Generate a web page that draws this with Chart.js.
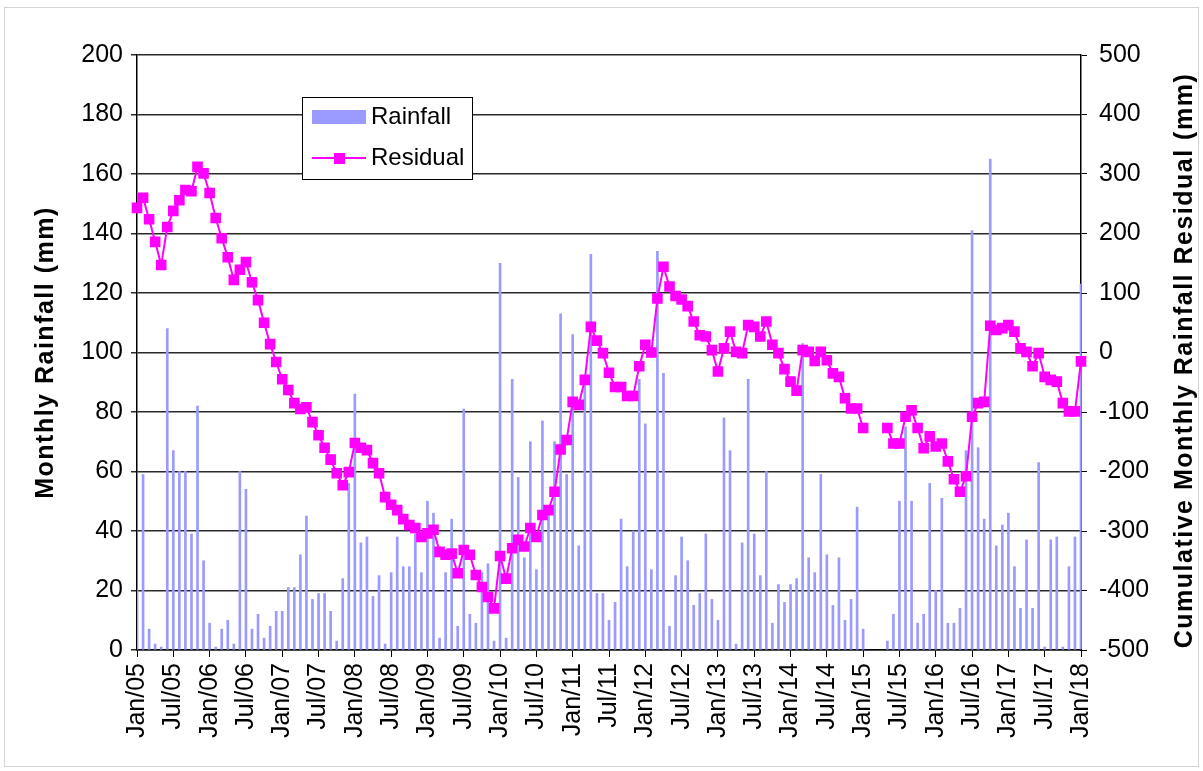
<!DOCTYPE html>
<html>
<head>
<meta charset="utf-8">
<script src="https://cdn.jsdelivr.net/npm/chart.js@4.4.1/dist/chart.umd.min.js"></script>
<style>
  html, body { margin: 0; padding: 0; background: #fff; }
  #wrap { width: 1203px; height: 771px; position: relative; }
</style>
</head>
<body>
<div id="wrap"><canvas id="chart" width="1203" height="771"></canvas></div>
<script>
// months Jan/05 .. Jan/18
var monthNames = ['Jan', 'Feb', 'Mar', 'Apr', 'May', 'Jun', 'Jul', 'Aug', 'Sep', 'Oct', 'Nov', 'Dec'];
var firstYear = 2005;
var monthCount = 157;
var labels = [];
for (var i = 0; i < monthCount; i++) {
  var yy = firstYear + Math.floor(i / 12);
  labels.push(monthNames[i % 12] + '/' + String(yy).substring(2));
}

// monthly rainfall (mm), one row per year
var rainfall = [
  20, 59, 7, 2, 1, 108, 67, 60, 60, 39, 82, 30,
  9, 1, 7, 10, 2, 60, 54, 7, 12, 4, 8, 13,
  13, 21, 21, 32, 45, 17, 19, 19, 13, 3, 24, 56,
  86, 36, 38, 18, 25, 2, 26, 38, 28, 28, 39, 26,
  50, 46, 4, 26, 44, 8, 81, 12, 9, 26, 29, 3,
  130, 4, 91, 58, 31, 70, 27, 77, 46, 70, 113, 59,
  106, 35, 91, 133, 19, 19, 10, 16, 44, 28, 40, 91,
  76, 27, 134, 93, 8, 25, 38, 30, 15, 19, 39, 17,
  10, 78, 67, 2, 36, 91, 39, 25, 60, 9, 22, 16,
  22, 24, 103, 31, 26, 59, 32, 15, 31, 10, 17, 48,
  7, null, null, null, 3, 12, 50, 75, 50, 9, 12, 56,
  20, 51, 9, 9, 14, 67, 141, 68, 44, 165, 35, 42,
  46, 28, 14, 37, 14, 63, 1, 37, 38, 1, 28, 38,
  123
];

// cumulative monthly rainfall residual (mm)
var residual = [
  243, 260, 224, 186, 147, 211, 238, 256, 273, 271, 312, 301,
  268, 226, 192, 160, 122, 139, 152, 118, 88, 50, 14, -16,
  -45, -63, -85, -95, -92, -117, -139, -160, -180, -203, -223, -201,
  -152, -160, -164, -186, -203, -243, -256, -265, -280, -290, -295, -310,
  -304, -298, -335, -340, -338, -371, -332, -340, -374, -394, -411, -430,
  -342, -380, -329, -315, -326, -295, -310, -273, -265, -234, -163, -147,
  -83, -88, -46, 43, 20, -1, -34, -58, -58, -73, -73, -23,
  13, 0, 91, 144, 111, 95, 89, 78, 52, 29, 27, 4,
  -32, 7, 35, 1, -1, 46, 43, 27, 52, 13, -1, -28,
  -49, -64, 4, 1, -14, 1, -13, -35, -41, -77, -94, -94,
  -127, null, null, null, -127, -153, -153, -108, -97, -127, -161, -141,
  -158, -153, -183, -213, -234, -208, -108, -85, -83, 45, 38, 41,
  46, 35, 7, 1, -23, -1, -41, -46, -49, -85, -99, -99,
  -15
];

var leftTitle = 'Monthly Rainfall (mm)';
var rightTitle = 'Cumulative Monthly Rainfall Residual (mm)';

var fontName = '"Liberation Sans", Arial, sans-serif';
var rainColor = '#9a9aff';
var residColor = '#ff00ff';

// draw one rotated title, reading bottom to top
function drawTitle(c, text, x, y) {
  c.save();
  c.fillStyle = '#000';
  c.font = 'bold 25px ' + fontName;
  if ('letterSpacing' in c) c.letterSpacing = '1.5px';
  c.textAlign = 'center';
  c.textBaseline = 'middle';
  c.translate(x, y);
  c.rotate(-Math.PI / 2);
  c.fillText(text, 0, 0);
  c.restore();
}

var titlePlugin = {
  id: 'axisTitles',
  afterDraw: function(chart) {
    var area = chart.chartArea;
    var mid = (area.top + area.bottom) / 2;
    drawTitle(chart.ctx, leftTitle, 46, mid);
    drawTitle(chart.ctx, rightTitle, 1185, mid + 8);
  }
};

// legend box inside the plot
var legendPlugin = {
  id: 'boxLegend',
  afterDraw: function(chart) {
    var c = chart.ctx;
    var x = 302, y = 97, w = 170, h = 82;
    c.save();
    c.fillStyle = '#fff';
    c.fillRect(x, y, w, h);
    c.strokeStyle = '#000';
    c.lineWidth = 1;
    c.strokeRect(x + 0.5, y + 0.5, w, h);

    c.fillStyle = rainColor;
    c.fillRect(x + 10, y + 13, 54, 14);

    c.strokeStyle = residColor;
    c.lineWidth = 2;
    c.beginPath();
    c.moveTo(x + 10, y + 61);
    c.lineTo(x + 64, y + 61);
    c.stroke();
    c.fillStyle = residColor;
    c.fillRect(x + 32, y + 56, 11, 11);

    c.fillStyle = '#000';
    c.font = '24px ' + fontName;
    c.textAlign = 'left';
    c.textBaseline = 'middle';
    c.fillText('Rainfall', x + 69, y + 20);
    c.fillText('Residual', x + 69, y + 61);
    c.restore();
  }
};

// white background and faint frame
var framePlugin = {
  id: 'frame',
  beforeDraw: function(chart) {
    var c = chart.ctx;
    c.save();
    c.fillStyle = '#fff';
    c.fillRect(0, 0, chart.width, chart.height);
    c.strokeStyle = '#d4d4d4';
    c.lineWidth = 1;
    c.strokeRect(4.5, 7.5, 1194, 759);
    c.restore();
  }
};

var ctx = document.getElementById('chart').getContext('2d');
var chart = new Chart(ctx, {
  type: 'bar',
  data: {
    labels: labels,
    datasets: [
      {
        type: 'line',
        label: 'Residual',
        data: residual,
        yAxisID: 'yRight',
        borderColor: residColor,
        backgroundColor: residColor,
        borderWidth: 2,
        pointStyle: 'rect',
        pointRadius: 7.5,
        pointBorderWidth: 0,
        tension: 0,
        spanGaps: false,
        order: 0
      },
      {
        type: 'bar',
        label: 'Rainfall',
        data: rainfall,
        yAxisID: 'yLeft',
        backgroundColor: rainColor,
        barThickness: 2,
        order: 1
      }
    ]
  },
  options: {
    responsive: false,
    animation: false,
    devicePixelRatio: 1,
    layout: { padding: { top: 55, left: 0, right: 0, bottom: 0 } },
    plugins: { legend: { display: false }, tooltip: { enabled: false } },
    scales: {
      x: {
        offset: false,
        grid: {
          offset: false,
          drawOnChartArea: false,
          tickLength: 7,
          color: function(c) { return c.index % 6 === 0 ? '#000' : 'rgba(0,0,0,0)'; }
        },
        border: { color: '#000', width: 1.5 },
        ticks: {
          autoSkip: false,
          maxRotation: 90,
          minRotation: 90,
          padding: 6,
          color: '#000',
          font: { family: fontName, size: 25 },
          callback: function(v, i) { return i % 6 === 0 ? labels[i] : ''; }
        },
        afterFit: function(s) { s.height = 121; }
      },
      yLeft: {
        position: 'left',
        min: 0,
        max: 200,
        grid: { color: '#2a2a2a', lineWidth: 1.5, tickLength: 6 },
        border: { color: '#000', width: 1.5 },
        ticks: {
          stepSize: 20,
          padding: 8,
          color: '#000',
          font: { family: fontName, size: 25 }
        },
        afterFit: function(s) { s.width = 137; }
      },
      yRight: {
        position: 'right',
        min: -500,
        max: 500,
        grid: { drawOnChartArea: false, color: '#000', tickLength: 6 },
        border: { color: '#000', width: 1.5 },
        ticks: {
          stepSize: 100,
          padding: 12,
          color: '#000',
          font: { family: fontName, size: 25 }
        },
        afterFit: function(s) { s.width = 122; }
      }
    }
  },
  plugins: [framePlugin, titlePlugin, legendPlugin]
});
</script>
</body>
</html>
